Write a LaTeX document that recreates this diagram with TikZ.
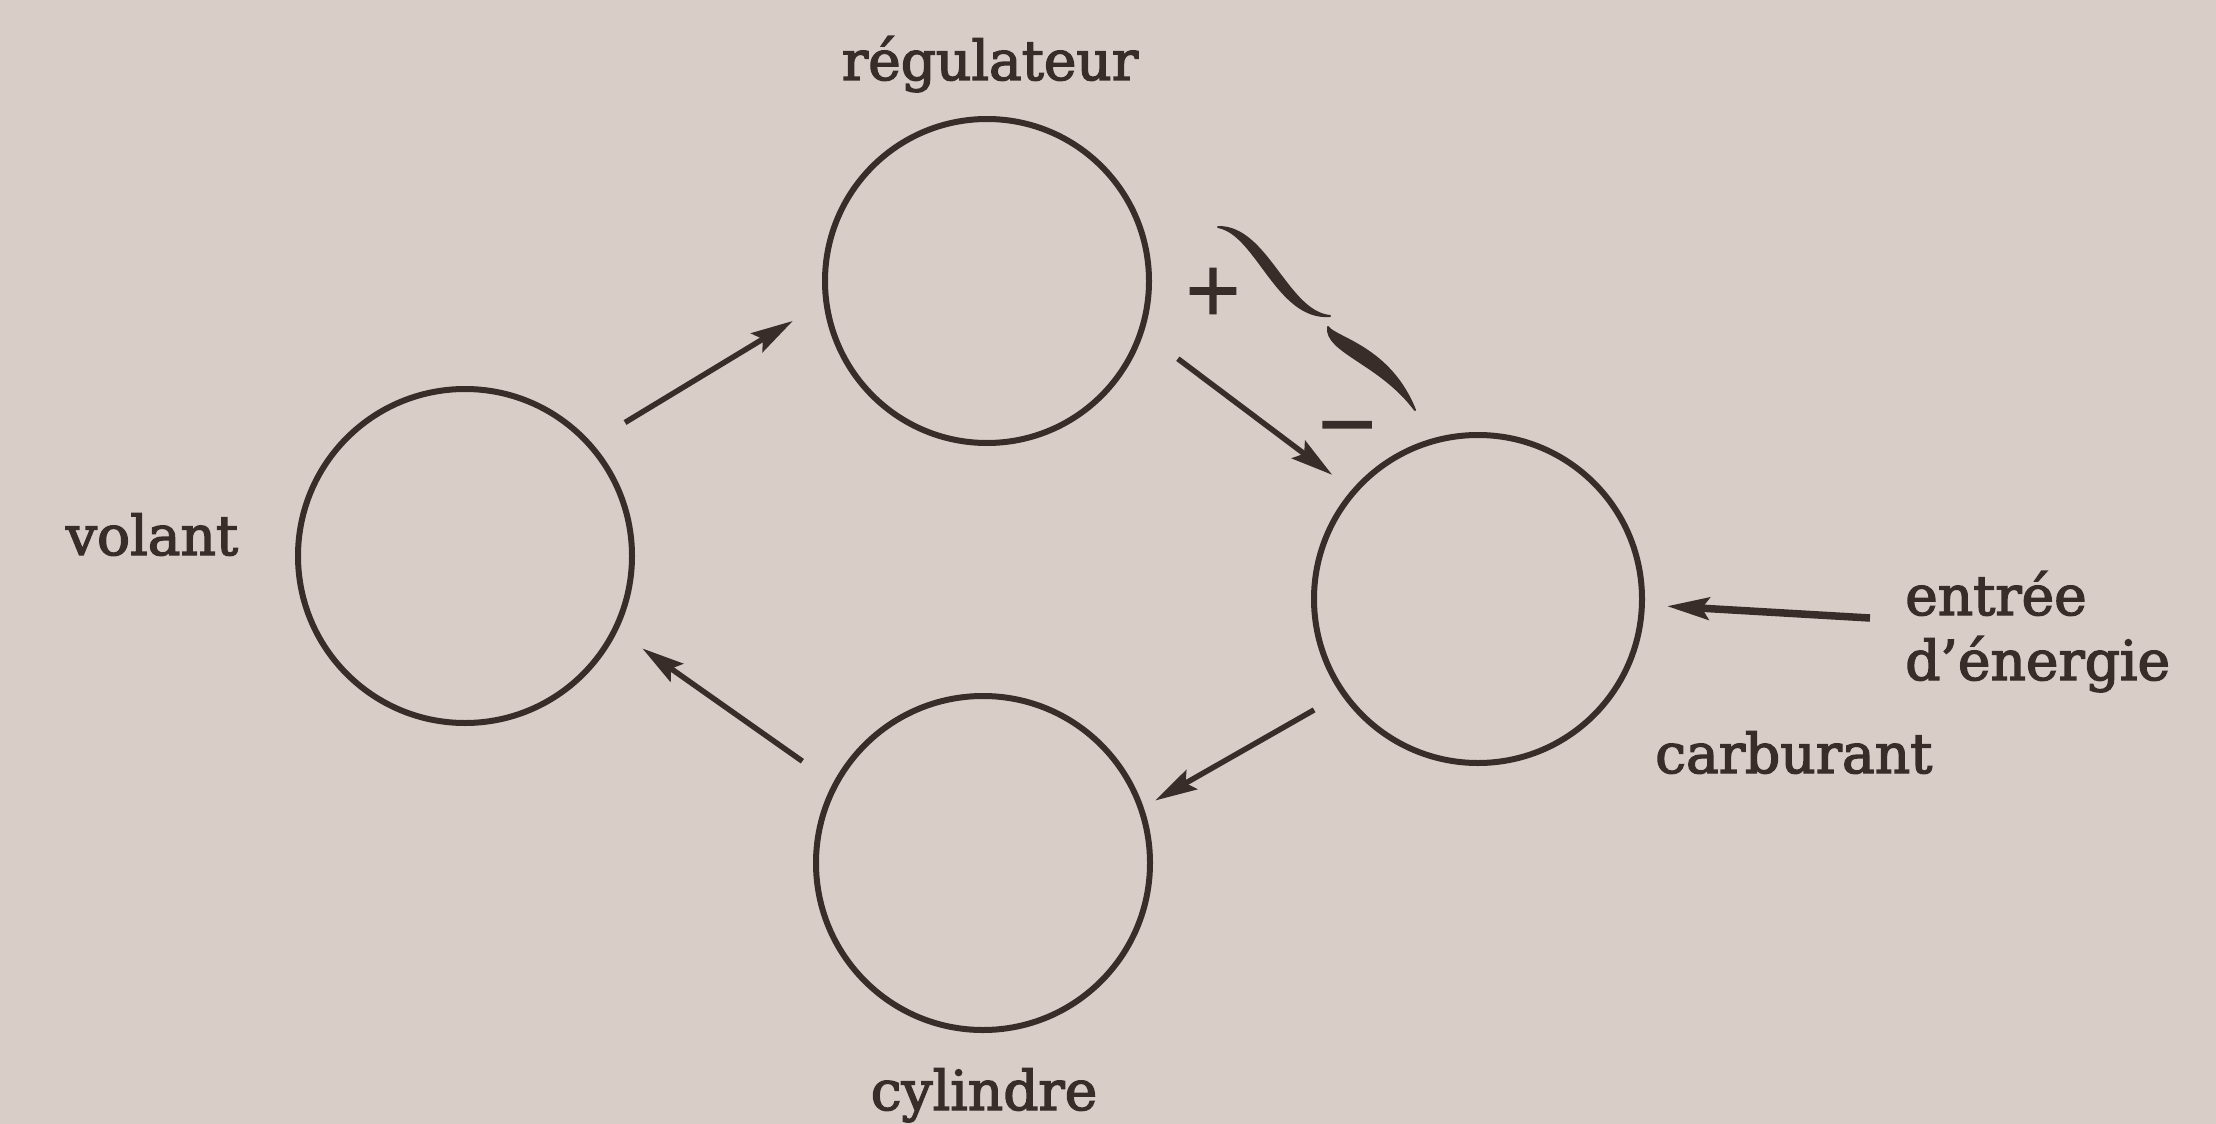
\documentclass[tikz,border=0pt]{standalone}
\usepackage{fontspec}
\setmainfont{DejaVu Serif}
\newfontfamily\lblfont{DejaVu Serif}[FakeBold=2.5]
\usetikzlibrary{arrows.meta}
\definecolor{paper}{RGB}{217,206,199}
\definecolor{ink}{RGB}{56,45,40}
\tikzset{
  state/.style={circle, draw=ink, line width=6pt, inner sep=0pt, outer sep=0pt, minimum size=#1},
  lbl/.style={text=ink, inner sep=0pt, font=\lblfont\fontsize{55}{60}\selectfont},
  conn/.style={draw=ink, line width=5.5pt, -{Stealth[length=42pt,width=22pt,inset=7pt]}},
  sign/.style={text=ink, inner sep=0pt},
  squig/.style={fill=ink, draw=ink, line width=2pt, line join=round},
}
\begin{document}
\begin{tikzpicture}[x=1pt,y=-1pt]
\fill[paper] (0,0) rectangle (2216,1124);
\useasboundingbox (0,0) rectangle (2216,1124);
% states
\node[state=324pt] (reg) at (987,281) {};
\node[state=334pt] (vol) at (465,556) {};
\node[state=328pt] (carb) at (1478,599) {};
\node[state=334pt] (cyl) at (983,863) {};
% labels
\node[lbl, anchor=base] (lreg) at (990,80) {régulateur};
\node[lbl, anchor=base] (lvol) at (152,555) {volant};
\node[lbl, anchor=base] (lcyl) at (984,1110) {cylindre};
\node[lbl, anchor=base west] (lcarb) at (1655,773) {carburant};
\node[lbl, anchor=base west] (lent) at (1905,615) {entrée};
\node[lbl, anchor=base west] (lene) at (1905,680) {d’énergie};
% signs
\node[sign, font=\lblfont\fontsize{72}{80}\selectfont, anchor=center] (plus) at (1213,291) {+};
\node[sign, font=\lblfont\fontsize{76}{80}\selectfont, anchor=mid] (minus) at (1347,446) {−};
% connectors
\draw[conn, shorten <=42pt, shorten >=39pt] (vol.42.2) -- (reg.187.1);
\draw[conn, shorten <=46pt, shorten >=27.6pt] (reg.342.3) -- (carb.139.1);
\draw[conn, shorten <=34pt, shorten >=16.4pt] (carb.215) -- (cyl.19.2);
\draw[conn, shorten <=40.6pt, shorten >=33.4pt] (cyl.152.5) -- (vol.334.7);
\coordinate (inE) at (1870,618);
\draw[conn, line width=7.5pt, shorten >=25pt] (inE) -- (carb.358.5);
% squiggles
\path[squig] (1218,227) .. controls (1267,226) and (1287,312) .. (1330,316)
  .. controls (1277,320) and (1257,234) .. (1218,227) -- cycle;
\path[squig] (1328,327) .. controls (1335,338) and (1390,347) .. (1415,410)
  .. controls (1380,363) and (1325,352) .. (1328,327) -- cycle;
\end{tikzpicture}
\end{document}
